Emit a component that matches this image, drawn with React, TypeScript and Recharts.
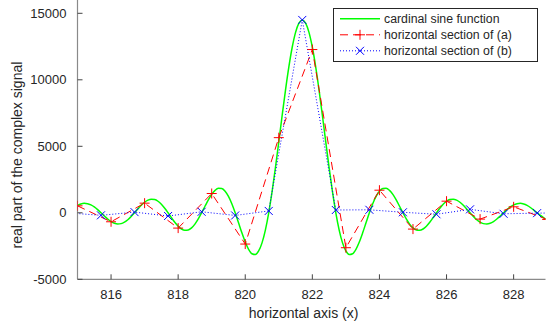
import React from 'react';
import { LineChart, Line, XAxis, YAxis, Legend, Label } from 'recharts';

const GREEN_X = [
  815.0, 815.1, 815.2, 815.3, 815.4, 815.5, 815.6, 815.7, 815.8, 815.9,
  816.0, 816.1, 816.2, 816.3, 816.4, 816.5, 816.6, 816.7, 816.8, 816.9,
  817.0, 817.1, 817.2, 817.3, 817.4, 817.5, 817.6, 817.7, 817.8, 817.9,
  818.0, 818.1, 818.2, 818.3, 818.4, 818.5, 818.6, 818.7, 818.8, 818.9,
  819.0, 819.1, 819.2, 819.3, 819.4, 819.5, 819.6, 819.7, 819.8, 819.9,
  820.0, 820.1, 820.2, 820.3, 820.4, 820.5, 820.6, 820.7, 820.8, 820.9,
  821.0, 821.1, 821.2, 821.3, 821.4, 821.5, 821.6, 821.7, 821.8, 821.9,
  822.0, 822.1, 822.2, 822.3, 822.4, 822.5, 822.6, 822.7, 822.8, 822.9,
  823.0, 823.1, 823.2, 823.3, 823.4, 823.5, 823.6, 823.7, 823.8, 823.9,
  824.0, 824.1, 824.2, 824.3, 824.4, 824.5, 824.6, 824.7, 824.8, 824.9,
  825.0, 825.1, 825.2, 825.3, 825.4, 825.5, 825.6, 825.7, 825.8, 825.9,
  826.0, 826.1, 826.2, 826.3, 826.4, 826.5, 826.6, 826.7, 826.8, 826.9,
  827.0, 827.1, 827.2, 827.3, 827.4, 827.5, 827.6, 827.7, 827.8, 827.9,
  828.0, 828.1, 828.2, 828.3, 828.4, 828.5, 828.6, 828.7, 828.8, 828.9,
  829.0,
];
const GREEN_Y = [
  557, 665, 710, 686, 593, 438, 234, 0, -242, -468,
  -655, -784, -839, -813, -705, -522, -280, 0, 291, 565,
  794, 954, 1026, 998, 868, 646, 348, 0, -366, -714,
  -1009, -1219, -1319, -1291, -1132, -848, -460, 0, 492, 969,
  1383, 1688, 1846, 1829, 1624, 1233, 679, 0, -751, -1507,
  -2196, -2744, -3077, -3135, -2872, -2261, -1297, 0, 1585, 3391,
  5334, 7316, 9231, 10974, 12447, 13565, 14263, 14500, 14263, 13565,
  12447, 10974, 9231, 7316, 5334, 3391, 1585, 0, -1297, -2261,
  -2872, -3135, -3077, -2744, -2196, -1507, -751, 0, 679, 1233,
  1624, 1829, 1846, 1688, 1383, 969, 492, 0, -460, -848,
  -1132, -1291, -1319, -1219, -1009, -714, -366, 0, 348, 646,
  868, 998, 1026, 954, 794, 565, 291, 0, -280, -522,
  -705, -813, -839, -784, -655, -468, -242, 0, 234, 438,
  593, 686, 710, 665, 557, 399, 207, 0, -201, -377,
  -512,
];

const RED_X = [815, 816, 817, 818, 819, 820, 821, 822, 823, 824, 825, 826, 827, 828, 829];
const RED_Y = [525, -675, 725, -1150, 1450, -2350, 5650, 12275, -2625, 1700, -1225, 875, -475, 450, -500];

const BLUE_X = [814.7, 815.7, 816.7, 817.7, 818.7, 819.7, 820.7, 821.7, 822.7, 823.7, 824.7, 825.7, 826.7, 827.7, 828.7, 829.7];
const BLUE_Y = [0, -190, 50, -240, 75, -200, 140, 14500, 210, 225, 40, -110, 260, -75, -25, 0];

const X_TICKS = [816, 818, 820, 822, 824, 826, 828];
const Y_TICKS = [-5000, 0, 5000, 10000, 15000];
const X_DOMAIN = [815, 828.95];
const Y_DOMAIN = [-5000, 16000];

const SERIES_NAMES = ['cardinal sine function', 'horizontal section of (a)', 'horizontal section of (b)'];

const greenData = GREEN_X.map((x, i) => ({ x, y: GREEN_Y[i] }));
const redData = RED_X.map((x, i) => ({ x, y: RED_Y[i] }));
const blueData = BLUE_X.map((x, i) => ({ x, y: BLUE_Y[i] }));

const FONT = "'Liberation Sans', Arial, Helvetica, sans-serif";
const TEXT = '#262626';
const TICK = '#444444';
const FRAME = '#8a8a8a';
const GREEN = '#00ff00';
const RED = '#ff0000';
const BLUE = '#0000ff';

const BottomTick = (p: any) => (
  <g>
    <line x1={p.x} x2={p.x} y1={p.y} y2={p.y - 5} stroke={TICK} strokeWidth={1} />
    <text x={p.x} y={p.y + 19.7} textAnchor="middle" fontSize={13} fontFamily={FONT} fill={TEXT}>
      {p.payload.value}
    </text>
  </g>
);
const TopTick = (p: any) => (
  <line x1={p.x} x2={p.x} y1={p.y} y2={p.y + 5} stroke={TICK} strokeWidth={1} />
);
const LeftTick = (p: any) => (
  <g>
    <line x1={p.x} x2={p.x + 5} y1={p.y} y2={p.y} stroke={TICK} strokeWidth={1} />
    <text x={p.x - 11} y={p.y + 4.6} textAnchor="end" fontSize={13} fontFamily={FONT} fill={TEXT}>
      {p.payload.value}
    </text>
  </g>
);
const RightTick = (p: any) => (
  <line x1={p.x} x2={p.x - 5} y1={p.y} y2={p.y} stroke={TICK} strokeWidth={1} />
);

const XTitle = (p: any) => {
  const vb = p.viewBox;
  return (
    <text x={vb.x + vb.width / 2 - 8} y={vb.y + 38.2} textAnchor="middle" fontSize={14} fontFamily={FONT} fill={TEXT}>
      horizontal axis (x)
    </text>
  );
};
const YTitle = (p: any) => {
  const vb = p.viewBox;
  const cx = 22.5;
  const cy = vb.y + vb.height / 2 + 15.4;
  return (
    <text x={cx} y={cy} transform={`rotate(-90, ${cx}, ${cy})`} textAnchor="middle" fontSize={14} fontFamily={FONT} fill={TEXT}>
      real part of the complex signal
    </text>
  );
};

const PlusDot = (p: any) => {
  const { cx, cy } = p;
  if (cx == null || cy == null) return <g key={p.index} />;
  return (
    <path key={p.index} d={`M${cx - 5},${cy}H${cx + 5}M${cx},${cy - 5}V${cy + 5}`} stroke={RED} strokeWidth={1} fill="none" />
  );
};
const CrossDot = (p: any) => {
  const { cx, cy } = p;
  if (cx == null || cy == null) return <g key={p.index} />;
  return (
    <path key={p.index} d={`M${cx - 4},${cy - 4}L${cx + 4},${cy + 4}M${cx - 4},${cy + 4}L${cx + 4},${cy - 4}`} stroke={BLUE} strokeWidth={1} fill="none" />
  );
};

const LegendBox = () => {
  const rows = [10.8, 26.8, 42.8];
  return (
    <svg width={205} height={54} style={{ display: 'block', overflow: 'visible' }}>
      <rect x={0.5} y={0.5} width={204} height={53} fill="#ffffff" stroke={TEXT} strokeWidth={1} />
      <line x1={7} x2={47} y1={rows[0]} y2={rows[0]} stroke={GREEN} strokeWidth={1.5} />
      <line x1={7} x2={47} y1={rows[1]} y2={rows[1]} stroke={RED} strokeWidth={1} strokeDasharray="8 5" />
      <path d={`M${27 - 5},${rows[1]}H${27 + 5}M27,${rows[1] - 5}V${rows[1] + 5}`} stroke={RED} strokeWidth={1} />
      <line x1={7} x2={47} y1={rows[2]} y2={rows[2]} stroke={BLUE} strokeWidth={1} strokeDasharray="1 2" />
      <path d={`M23,${rows[2] - 4}L31,${rows[2] + 4}M23,${rows[2] + 4}L31,${rows[2] - 4}`} stroke={BLUE} strokeWidth={1} />
      {SERIES_NAMES.map((n, i) => (
        <text key={n} x={51} y={rows[i] + 4.3} fontSize={12.3} fontFamily={FONT} fill={TEXT}>
          {n}
        </text>
      ))}
    </svg>
  );
};

export default function App() {
  return (
    <div style={{ width: 547, height: 327, background: '#ffffff', position: 'relative' }}>
      <style>{'body{margin:0;background:#ffffff;}'}</style>
      <LineChart width={547} height={327} margin={{ top: 0, right: 1.5, bottom: 17.7, left: 0 }}>
        <XAxis
          xAxisId={0}
          dataKey="x"
          type="number"
          domain={X_DOMAIN}
          ticks={X_TICKS}
          interval={0}
          allowDataOverflow
          height={30}
          axisLine={{ stroke: FRAME, strokeWidth: 1.2 }}
          tickLine={false}
          tickSize={0}
          tickMargin={0}
          tick={BottomTick}
        >
          <Label content={XTitle} />
        </XAxis>
        <XAxis
          xAxisId="top"
          orientation="top"
          type="number"
          domain={X_DOMAIN}
          ticks={X_TICKS}
          interval={0}
          allowDataOverflow
          height={0}
          axisLine={false}
          tickLine={false}
          tickSize={0}
          tickMargin={0}
          tick={TopTick}
        />
        <YAxis
          yAxisId={0}
          type="number"
          domain={Y_DOMAIN}
          ticks={Y_TICKS}
          interval={0}
          allowDataOverflow
          width={77.5}
          axisLine={{ stroke: FRAME, strokeWidth: 1.2 }}
          tickLine={false}
          tickSize={0}
          tickMargin={0}
          tick={LeftTick}
        >
          <Label content={YTitle} />
        </YAxis>
        <YAxis
          yAxisId="right"
          orientation="right"
          type="number"
          domain={Y_DOMAIN}
          ticks={Y_TICKS}
          interval={0}
          allowDataOverflow
          width={0}
          axisLine={{ stroke: FRAME, strokeWidth: 1.2 }}
          tickLine={false}
          tickSize={0}
          tickMargin={0}
          tick={RightTick}
        />
        <Line
          data={greenData}
          dataKey="y"
          name={SERIES_NAMES[0]}
          type="monotone"
          stroke={GREEN}
          strokeWidth={1.5}
          dot={false}
          activeDot={false}
          isAnimationActive={false}
        />
        <Line
          data={redData}
          dataKey="y"
          name={SERIES_NAMES[1]}
          type="linear"
          stroke={RED}
          strokeWidth={1}
          strokeDasharray="8 5"
          dot={PlusDot}
          activeDot={false}
          isAnimationActive={false}
        />
        <Line
          data={blueData}
          dataKey="y"
          name={SERIES_NAMES[2]}
          type="linear"
          stroke={BLUE}
          strokeWidth={1}
          strokeDasharray="1 2"
          dot={CrossDot}
          activeDot={false}
          isAnimationActive={false}
        />
        <Legend
          layout="vertical"
          align="center"
          verticalAlign="middle"
          content={LegendBox}
          wrapperStyle={{ position: 'absolute', left: 333, top: 7.5, width: 205, height: 54, margin: 0, padding: 0 }}
        />
      </LineChart>
    </div>
  );
}
